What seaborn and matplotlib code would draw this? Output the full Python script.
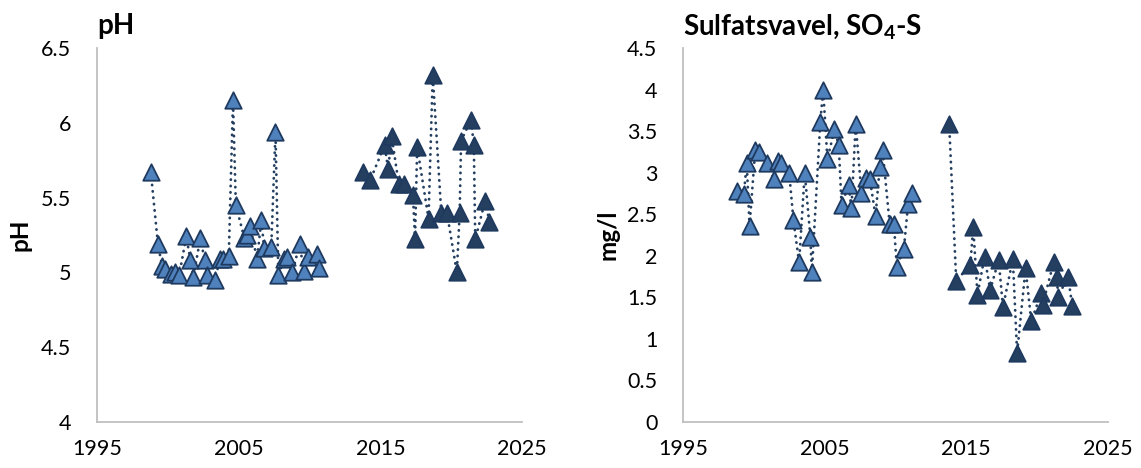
import numpy as np
import pandas as pd
import matplotlib
matplotlib.use("Agg")
import matplotlib.pyplot as plt
import seaborn as sns

# ---------------- data (decimal years) ----------------
ph_years_early = [1998.8, 1999.3, 1999.6, 1999.8, 2000.2, 2000.5, 2000.8, 2001.3, 2001.6,
                  2001.8, 2002.3, 2002.6, 2002.8, 2003.3, 2003.7, 2003.9, 2004.3, 2004.6,
                  2004.8, 2005.4, 2005.6, 2005.8, 2006.3, 2006.6, 2006.8, 2007.3, 2007.6,
                  2007.8, 2008.2, 2008.4, 2008.8, 2009.3, 2009.6, 2009.9, 2010.5, 2010.7]
ph_early = [5.67, 5.19, 5.04, 5.02, 4.99, 5.00, 4.98, 5.24, 5.08,
            4.97, 5.23, 5.08, 4.98, 4.95, 5.09, 5.09, 5.11, 6.15,
            5.45, 5.23, 5.25, 5.31, 5.09, 5.35, 5.16, 5.17, 5.94,
            4.98, 5.09, 5.10, 5.00, 5.19, 5.01, 5.10, 5.12, 5.03]

ph_years_late = [2013.75, 2014.3, 2015.3, 2015.55, 2015.8, 2016.3, 2016.7, 2017.3, 2017.45,
                 2017.6, 2018.4, 2018.7, 2019.3, 2019.7, 2020.4, 2020.6, 2020.7, 2021.4,
                 2021.6, 2021.7, 2022.4, 2022.7]
ph_late = [5.67, 5.62, 5.85, 5.69, 5.91, 5.59, 5.59, 5.52, 5.22,
           5.84, 5.36, 6.32, 5.40, 5.40, 5.00, 5.40, 5.88, 6.02,
           5.85, 5.22, 5.48, 5.34]

so4_years_early = [1998.8, 1999.3, 1999.5, 1999.7, 2000.1, 2000.4, 2000.9, 2001.4, 2001.7,
                   2001.9, 2002.5, 2002.8, 2003.2, 2003.6, 2004.0, 2004.1, 2004.7, 2004.9,
                   2005.2, 2005.7, 2006.0, 2006.2, 2006.7, 2006.9, 2007.2, 2007.6, 2007.9,
                   2008.2, 2008.6, 2008.9, 2009.1, 2009.6, 2009.9, 2010.1, 2010.6, 2010.9,
                   2011.2]
so4_early = [2.78, 2.74, 3.12, 2.36, 3.27, 3.25, 3.12, 2.92, 3.14,
             3.12, 3.00, 2.43, 1.92, 3.00, 2.22, 1.80, 3.61, 4.00,
             3.16, 3.52, 3.33, 2.61, 2.85, 2.57, 3.59, 2.76, 2.94,
             2.92, 2.48, 3.07, 3.27, 2.38, 2.38, 1.87, 2.08, 2.62,
             2.75]

so4_years_late = [2013.8, 2014.3, 2015.3, 2015.5, 2015.8, 2016.3, 2016.7, 2017.3, 2017.6,
                  2018.3, 2018.6, 2019.2, 2019.6, 2020.3, 2020.4, 2021.2, 2021.4, 2021.5,
                  2022.2, 2022.5]
so4_late = [3.59, 1.70, 1.89, 2.35, 1.53, 1.99, 1.59, 1.95, 1.38,
            1.96, 0.83, 1.85, 1.21, 1.55, 1.41, 1.93, 1.75, 1.51,
            1.75, 1.39]

x_ticks = [1995, 2005, 2015, 2025]
ph_ticks = [4, 4.5, 5, 5.5, 6, 6.5]
so4_ticks = [0, 0.5, 1, 1.5, 2, 2.5, 3, 3.5, 4, 4.5]

# ---------------- style ----------------
sns.set_theme(style="white")
plt.rcParams['font.family'] = ['Lato', 'DejaVu Sans']
plt.rcParams['mathtext.fontset'] = 'custom'
plt.rcParams['mathtext.rm'] = 'Lato:bold'
plt.rcParams['mathtext.it'] = 'Lato:bold'
plt.rcParams['mathtext.bf'] = 'Lato:bold'

LIGHT = "#4F81BD"
DARK = "#243F60"
EDGE = "#1F3A5F"
SPINE = "#BFBFBF"
FS = 15.5
TITLE_FS = 20
LABEL_FS = 17.5

fig = plt.figure(figsize=(11.41, 4.68), dpi=100)
W, H = 1141, 468
ax1 = fig.add_axes([97 / W, 1 - 422 / H, 425 / W, 374 / H])
ax2 = fig.add_axes([683 / W, 1 - 422 / H, 424.7 / W, 374 / H])


def draw(ax, xs, ys, fill):
    df = pd.DataFrame({"year": xs, "value": ys})
    sns.lineplot(data=df, x="year", y="value", ax=ax, sort=False, estimator=None,
                 color=DARK, linewidth=2.0, linestyle=(0, (0.1, 2.2)),
                 dash_capstyle='round', zorder=2)
    sns.scatterplot(data=df, x="year", y="value", ax=ax, marker="^", s=140,
                    color=fill, edgecolor=EDGE, linewidth=1.3, zorder=3)


def fmt(v):
    return f"{v:g}"


def style(ax, yticks, ylim, title, ylabel, label_x):
    ax.set_xlim(1995, 2025)
    ax.set_ylim(*ylim)
    ax.set_xticks(x_ticks)
    ax.set_xticklabels([str(t) for t in x_ticks], fontsize=FS, color="black")
    ax.set_yticks(yticks)
    ax.set_yticklabels([fmt(t) for t in yticks], fontsize=FS, color="black")
    ax.tick_params(axis='y', length=0, pad=18.5)
    ax.tick_params(axis='x', length=0, pad=12)
    for s in ["top", "right"]:
        ax.spines[s].set_visible(False)
    for s in ["left", "bottom"]:
        ax.spines[s].set_color(SPINE)
        ax.spines[s].set_linewidth(1.3)
    ax.set_title(title, loc='left', fontsize=TITLE_FS, fontweight='bold', pad=10, color="black")
    ax.set_ylabel(ylabel, fontsize=LABEL_FS, fontweight='bold', color="black", va='center')
    ax.yaxis.set_label_coords(label_x, 0.5)
    ax.set_xlabel("")
    ax.grid(False)


draw(ax1, ph_years_early, ph_early, LIGHT)
draw(ax1, ph_years_late, ph_late, DARK)
draw(ax2, so4_years_early, so4_early, LIGHT)
draw(ax2, so4_years_late, so4_late, DARK)

style(ax1, ph_ticks, (4, 6.5), "pH", "pH", (20 - 97) / 425)
style(ax2, so4_ticks, (0, 4.5), r"Sulfatsvavel, SO$_4$-S", "mg/l", (608 - 683) / 424.7)

fig.savefig("out.png", dpi=100)
